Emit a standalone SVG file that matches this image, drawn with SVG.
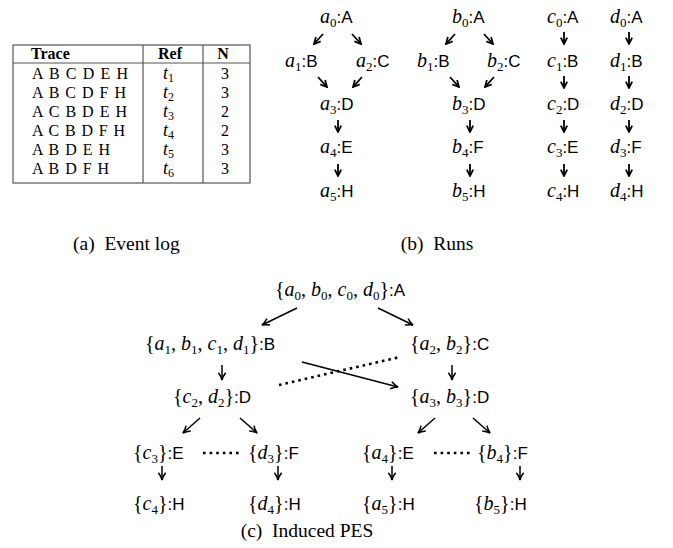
<svg xmlns="http://www.w3.org/2000/svg" width="673" height="548" viewBox="0 0 673 548">
<style>
.m{font-family:"Liberation Serif","Times New Roman",serif;font-size:20px;fill:#000}
.i{font-style:italic}
.s{font-size:13px}
.l{font-family:"Liberation Sans",Arial,sans-serif;font-size:17px}
.t{font-family:"Liberation Serif","Times New Roman",serif;font-size:16px;fill:#000}
.b{font-weight:bold}
.cap{font-family:"Liberation Serif","Times New Roman",serif;font-size:19.5px;fill:#000}
.g{stroke:#555;stroke-width:1.2;fill:none}
.a{stroke:#000;stroke-width:1.8;fill:none;marker-end:url(#ah)}
.p{stroke:#000;stroke-width:1.5;fill:none;marker-end:url(#ap)}
.d{stroke:#000;stroke-width:2.6;fill:none;stroke-dasharray:2.6 4}
</style>
<defs>
<marker id="ah" viewBox="0 0 10 10" refX="9" refY="5" markerWidth="8" markerHeight="8" markerUnits="userSpaceOnUse" orient="auto"><path d="M1,1 L9,5 L1,9" fill="none" stroke="#000" stroke-width="2.2"/></marker>
<marker id="ap" viewBox="0 0 10 10" refX="9" refY="5" markerWidth="9" markerHeight="9" markerUnits="userSpaceOnUse" orient="auto"><path d="M1,1 Q5,4 9,5 Q5,6 1,9" fill="none" stroke="#000" stroke-width="1.7"/></marker>
</defs>
<rect width="673" height="548" fill="#fff"/>

<!-- (a) Event log table -->
<g id="table">
<rect class="g" x="13" y="45" width="237" height="138"/>
<line class="g" x1="13" y1="63" x2="250" y2="63"/>
<line class="g" x1="143" y1="45" x2="143" y2="183"/>
<line class="g" x1="203" y1="45" x2="203" y2="183"/>
<text class="t b" x="31" y="59">Trace</text>
<text class="t b" x="170" y="59" text-anchor="middle">Ref</text>
<text class="t b" x="223" y="59" text-anchor="middle">N</text>
<text class="t" x="32" y="79" textLength="96" lengthAdjust="spacing">A B C D E H</text>
<text class="t" x="32" y="98" textLength="94" lengthAdjust="spacing">A B C D F H</text>
<text class="t" x="32" y="117" textLength="95" lengthAdjust="spacing">A C B D E H</text>
<text class="t" x="32" y="136" textLength="93" lengthAdjust="spacing">A C B D F H</text>
<text class="t" x="32" y="155" textLength="78" lengthAdjust="spacing">A B D E H</text>
<text class="t" x="32" y="174" textLength="77" lengthAdjust="spacing">A B D F H</text>
<text class="t" x="163" y="79"><tspan class="i" font-size="18">t</tspan><tspan font-size="12" dy="3">1</tspan></text>
<text class="t" x="163" y="98"><tspan class="i" font-size="18">t</tspan><tspan font-size="12" dy="3">2</tspan></text>
<text class="t" x="163" y="117"><tspan class="i" font-size="18">t</tspan><tspan font-size="12" dy="3">3</tspan></text>
<text class="t" x="163" y="136"><tspan class="i" font-size="18">t</tspan><tspan font-size="12" dy="3">4</tspan></text>
<text class="t" x="163" y="155"><tspan class="i" font-size="18">t</tspan><tspan font-size="12" dy="3">5</tspan></text>
<text class="t" x="163" y="174"><tspan class="i" font-size="18">t</tspan><tspan font-size="12" dy="3">6</tspan></text>
<text class="t" x="225" y="79" text-anchor="middle">3</text>
<text class="t" x="225" y="98" text-anchor="middle">3</text>
<text class="t" x="225" y="117" text-anchor="middle">2</text>
<text class="t" x="225" y="136" text-anchor="middle">2</text>
<text class="t" x="225" y="155" text-anchor="middle">3</text>
<text class="t" x="225" y="174" text-anchor="middle">3</text>
</g>

<!-- (b) Runs nodes -->
<g id="a0"><text class="m" x="320" y="23"><tspan class="i">a</tspan><tspan class="s" dy="4">0</tspan><tspan class="l" dy="-4">:A</tspan></text></g>
<g id="a1"><text class="m" x="285" y="67"><tspan class="i">a</tspan><tspan class="s" dy="4">1</tspan><tspan class="l" dy="-4">:B</tspan></text></g>
<g id="a2"><text class="m" x="356" y="67"><tspan class="i">a</tspan><tspan class="s" dy="4">2</tspan><tspan class="l" dy="-4">:C</tspan></text></g>
<g id="a3"><text class="m" x="320" y="110"><tspan class="i">a</tspan><tspan class="s" dy="4">3</tspan><tspan class="l" dy="-4">:D</tspan></text></g>
<g id="a4"><text class="m" x="320" y="153"><tspan class="i">a</tspan><tspan class="s" dy="4">4</tspan><tspan class="l" dy="-4">:E</tspan></text></g>
<g id="a5"><text class="m" x="320" y="197"><tspan class="i">a</tspan><tspan class="s" dy="4">5</tspan><tspan class="l" dy="-4">:H</tspan></text></g>

<g id="b0"><text class="m" x="452" y="23"><tspan class="i">b</tspan><tspan class="s" dy="4">0</tspan><tspan class="l" dy="-4">:A</tspan></text></g>
<g id="b1"><text class="m" x="417" y="67"><tspan class="i">b</tspan><tspan class="s" dy="4">1</tspan><tspan class="l" dy="-4">:B</tspan></text></g>
<g id="b2"><text class="m" x="487" y="67"><tspan class="i">b</tspan><tspan class="s" dy="4">2</tspan><tspan class="l" dy="-4">:C</tspan></text></g>
<g id="b3"><text class="m" x="452" y="110"><tspan class="i">b</tspan><tspan class="s" dy="4">3</tspan><tspan class="l" dy="-4">:D</tspan></text></g>
<g id="b4"><text class="m" x="452" y="153"><tspan class="i">b</tspan><tspan class="s" dy="4">4</tspan><tspan class="l" dy="-4">:F</tspan></text></g>
<g id="b5"><text class="m" x="452" y="197"><tspan class="i">b</tspan><tspan class="s" dy="4">5</tspan><tspan class="l" dy="-4">:H</tspan></text></g>

<g id="c0"><text class="m" x="547" y="23"><tspan class="i">c</tspan><tspan class="s" dy="4">0</tspan><tspan class="l" dy="-4">:A</tspan></text></g>
<g id="c1"><text class="m" x="547" y="67"><tspan class="i">c</tspan><tspan class="s" dy="4">1</tspan><tspan class="l" dy="-4">:B</tspan></text></g>
<g id="c2"><text class="m" x="547" y="110"><tspan class="i">c</tspan><tspan class="s" dy="4">2</tspan><tspan class="l" dy="-4">:D</tspan></text></g>
<g id="c3"><text class="m" x="547" y="153"><tspan class="i">c</tspan><tspan class="s" dy="4">3</tspan><tspan class="l" dy="-4">:E</tspan></text></g>
<g id="c4"><text class="m" x="547" y="197"><tspan class="i">c</tspan><tspan class="s" dy="4">4</tspan><tspan class="l" dy="-4">:H</tspan></text></g>

<g id="d0"><text class="m" x="610" y="23"><tspan class="i">d</tspan><tspan class="s" dy="4">0</tspan><tspan class="l" dy="-4">:A</tspan></text></g>
<g id="d1"><text class="m" x="610" y="67"><tspan class="i">d</tspan><tspan class="s" dy="4">1</tspan><tspan class="l" dy="-4">:B</tspan></text></g>
<g id="d2"><text class="m" x="610" y="110"><tspan class="i">d</tspan><tspan class="s" dy="4">2</tspan><tspan class="l" dy="-4">:D</tspan></text></g>
<g id="d3"><text class="m" x="610" y="153"><tspan class="i">d</tspan><tspan class="s" dy="4">3</tspan><tspan class="l" dy="-4">:F</tspan></text></g>
<g id="d4"><text class="m" x="610" y="197"><tspan class="i">d</tspan><tspan class="s" dy="4">4</tspan><tspan class="l" dy="-4">:H</tspan></text></g>

<!-- (c) Induced PES nodes -->
<g id="pA"><text class="m" x="340" y="296" text-anchor="middle">{<tspan class="i">a</tspan><tspan class="s" dy="4">0</tspan><tspan dy="-4">, </tspan><tspan class="i">b</tspan><tspan class="s" dy="4">0</tspan><tspan dy="-4">, </tspan><tspan class="i">c</tspan><tspan class="s" dy="4">0</tspan><tspan dy="-4">, </tspan><tspan class="i">d</tspan><tspan class="s" dy="4">0</tspan><tspan dy="-4">}</tspan><tspan class="l">:A</tspan></text></g>
<g id="pB"><text class="m" x="145" y="350">{<tspan class="i">a</tspan><tspan class="s" dy="4">1</tspan><tspan dy="-4">, </tspan><tspan class="i">b</tspan><tspan class="s" dy="4">1</tspan><tspan dy="-4">, </tspan><tspan class="i">c</tspan><tspan class="s" dy="4">1</tspan><tspan dy="-4">, </tspan><tspan class="i">d</tspan><tspan class="s" dy="4">1</tspan><tspan dy="-4">}</tspan><tspan class="l">:B</tspan></text></g>
<g id="pC"><text class="m" x="410" y="350">{<tspan class="i">a</tspan><tspan class="s" dy="4">2</tspan><tspan dy="-4">, </tspan><tspan class="i">b</tspan><tspan class="s" dy="4">2</tspan><tspan dy="-4">}</tspan><tspan class="l">:C</tspan></text></g>
<g id="pD1"><text class="m" x="173" y="403">{<tspan class="i">c</tspan><tspan class="s" dy="4">2</tspan><tspan dy="-4">, </tspan><tspan class="i">d</tspan><tspan class="s" dy="4">2</tspan><tspan dy="-4">}</tspan><tspan class="l">:D</tspan></text></g>
<g id="pD2"><text class="m" x="410" y="403">{<tspan class="i">a</tspan><tspan class="s" dy="4">3</tspan><tspan dy="-4">, </tspan><tspan class="i">b</tspan><tspan class="s" dy="4">3</tspan><tspan dy="-4">}</tspan><tspan class="l">:D</tspan></text></g>
<g id="pE1"><text class="m" x="133" y="459">{<tspan class="i">c</tspan><tspan class="s" dy="4">3</tspan><tspan dy="-4">}</tspan><tspan class="l">:E</tspan></text></g>
<g id="pF1"><text class="m" x="248" y="459">{<tspan class="i">d</tspan><tspan class="s" dy="4">3</tspan><tspan dy="-4">}</tspan><tspan class="l">:F</tspan></text></g>
<g id="pE2"><text class="m" x="362" y="459">{<tspan class="i">a</tspan><tspan class="s" dy="4">4</tspan><tspan dy="-4">}</tspan><tspan class="l">:E</tspan></text></g>
<g id="pF2"><text class="m" x="477" y="459">{<tspan class="i">b</tspan><tspan class="s" dy="4">4</tspan><tspan dy="-4">}</tspan><tspan class="l">:F</tspan></text></g>
<g id="pH1"><text class="m" x="133" y="510">{<tspan class="i">c</tspan><tspan class="s" dy="3.5">4</tspan><tspan dy="-3.5">}</tspan><tspan class="l">:H</tspan></text></g>
<g id="pH2"><text class="m" x="248" y="510">{<tspan class="i">d</tspan><tspan class="s" dy="3.5">4</tspan><tspan dy="-3.5">}</tspan><tspan class="l">:H</tspan></text></g>
<g id="pH3"><text class="m" x="362" y="510">{<tspan class="i">a</tspan><tspan class="s" dy="3.5">5</tspan><tspan dy="-3.5">}</tspan><tspan class="l">:H</tspan></text></g>
<g id="pH4"><text class="m" x="474" y="510">{<tspan class="i">b</tspan><tspan class="s" dy="3.5">5</tspan><tspan dy="-3.5">}</tspan><tspan class="l">:H</tspan></text></g>

<!-- connectors -->
<g id="connectors">
<line class="a" x1="323" y1="34" x2="314" y2="44"/>
<line class="a" x1="352" y1="34" x2="361" y2="44"/>
<line class="a" x1="318" y1="77" x2="327" y2="87"/>
<line class="a" x1="362" y1="77" x2="353" y2="87"/>
<line class="a" x1="338" y1="120" x2="338" y2="132"/>
<line class="a" x1="338" y1="164" x2="338" y2="176"/>
<line class="a" x1="455" y1="34" x2="446" y2="44"/>
<line class="a" x1="484" y1="34" x2="493" y2="44"/>
<line class="a" x1="450" y1="77" x2="459" y2="87"/>
<line class="a" x1="494" y1="77" x2="485" y2="87"/>
<line class="a" x1="470" y1="120" x2="470" y2="132"/>
<line class="a" x1="470" y1="164" x2="470" y2="176"/>
<line class="a" x1="564" y1="32" x2="564" y2="44"/>
<line class="a" x1="564" y1="76" x2="564" y2="88"/>
<line class="a" x1="564" y1="120" x2="564" y2="132"/>
<line class="a" x1="564" y1="164" x2="564" y2="176"/>
<line class="a" x1="629" y1="32" x2="629" y2="44"/>
<line class="a" x1="629" y1="76" x2="629" y2="88"/>
<line class="a" x1="629" y1="120" x2="629" y2="132"/>
<line class="a" x1="629" y1="164" x2="629" y2="176"/>
<line class="p" x1="297" y1="308" x2="262" y2="325"/>
<line class="p" x1="378" y1="308" x2="413" y2="325"/>
<line class="p" x1="222" y1="365" x2="222" y2="380"/>
<line class="p" x1="452" y1="365" x2="452" y2="380"/>
<line class="p" x1="302" y1="362" x2="398" y2="387"/>
<line class="d" x1="279" y1="385" x2="400" y2="357"/>
<line class="p" x1="200" y1="418" x2="183" y2="433"/>
<line class="p" x1="240" y1="418" x2="257" y2="433"/>
<line class="p" x1="435" y1="418" x2="418" y2="433"/>
<line class="p" x1="473" y1="418" x2="490" y2="433"/>
<line class="d" x1="203" y1="453" x2="240" y2="453"/>
<line class="d" x1="434" y1="453" x2="471" y2="453"/>
<line class="p" x1="162" y1="466" x2="162" y2="480"/>
<line class="p" x1="278" y1="466" x2="278" y2="480"/>
<line class="p" x1="392" y1="466" x2="392" y2="480"/>
<line class="p" x1="520" y1="466" x2="520" y2="480"/>
</g>

<!-- captions -->
<text class="cap" x="73" y="250" xml:space="preserve">(a)  Event log</text>
<text class="cap" x="437" y="250" text-anchor="middle" xml:space="preserve">(b)  Runs</text>
<text class="cap" x="307" y="537" text-anchor="middle" xml:space="preserve">(c)  Induced PES</text>
</svg>
